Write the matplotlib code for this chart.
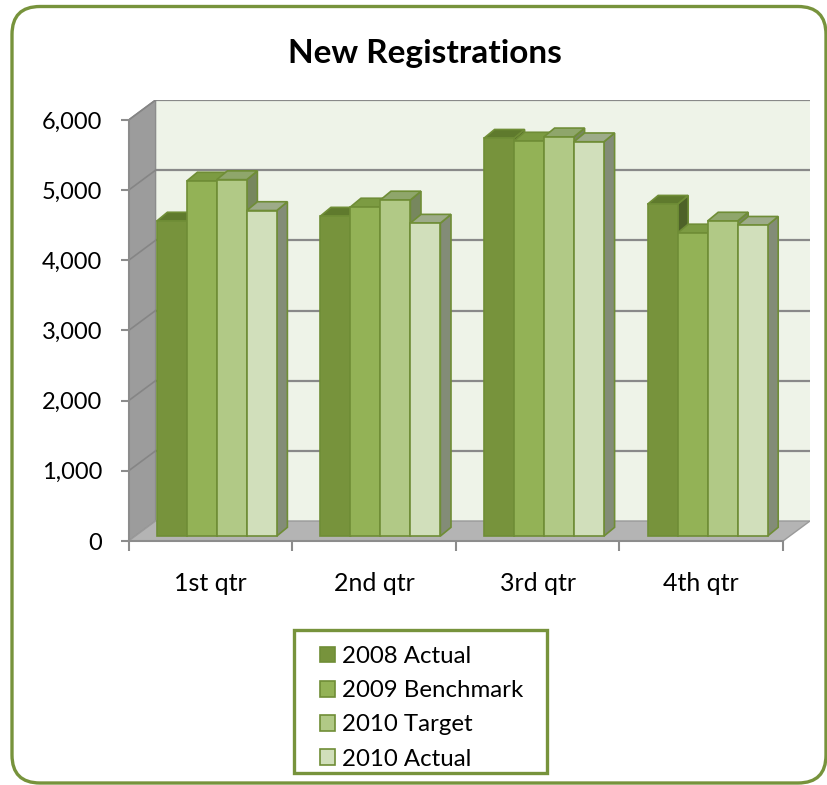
import matplotlib.pyplot as plt
from matplotlib.patches import Polygon, Rectangle, FancyBboxPatch, Patch

plt.rcParams['font.family'] = ['Lato', 'DejaVu Sans']

quarters = ["1st qtr", "2nd qtr", "3rd qtr", "4th qtr"]
series = ["2008 Actual", "2009 Benchmark", "2010 Target", "2010 Actual"]
actual_2008 = [4490, 4560, 5670, 4730]
benchmark_2009 = [5060, 4690, 5630, 4320]
target_2010 = [5080, 4790, 5690, 4490]
actual_2010 = [4640, 4460, 5620, 4430]
values = [actual_2008, benchmark_2009, target_2010, actual_2010]
yticks = [0, 1000, 2000, 3000, 4000, 5000, 6000]

front_cols = ["#77933c", "#93b256", "#b1c986", "#d1dfbb"]
top_cols = ["#5f7a2d", "#7c9b42", "#8fa66b", "#9dab89"]
side_cols = ["#4e6228", "#67822f", "#77875e", "#838c77"]
edge = "#6f8d36"
green = "#77933c"
grid_col = "#898989"

fig = plt.figure(figsize=(8.28, 7.85), dpi=100)
ax = fig.add_axes([128.6 / 828, (785 - 541) / 785, (810 - 128.6) / 828, (541 - 100) / 785])

# wall depth (oblique 3d look)
d = 0.165
h = 285
ax.set_xlim(-0.5, 3.5 + d)
ax.set_ylim(0, 6000 + h)

# back wall, left wall, floor
ax.add_patch(Rectangle((-0.5 + d, h), 4, 6000, fc="#eef3e8", ec="none", zorder=0))
ax.add_patch(Polygon([(-0.5, 0), (-0.5 + d, h), (-0.5 + d, 6000 + h), (-0.5, 6000)],
                     fc="#9c9c9c", ec="#8c8c8c", lw=1, zorder=1))
for v in yticks[1:]:
    ax.plot([-0.5 + d, 3.5 + d], [v + h, v + h], color=grid_col, lw=1.6, zorder=1)
    ax.plot([-0.5, -0.5 + d], [v, v + h], color="#858585", lw=1.2, zorder=1)
ax.add_patch(Polygon([(-0.5, 0), (3.5, 0), (3.5 + d, h), (-0.5 + d, h)],
                     fc="#b4b4b4", ec="#9a9a9a", lw=1, zorder=2))

# bars
w = 0.1834
x0 = -0.328
y0 = 70
ddx = 0.065
ddy = 125
z = 3
for i in range(len(quarters)):
    for j in range(len(series)):
        v = values[j][i]
        xl = i + x0 + j * w
        xr = xl + w
        side = [(xr, y0), (xr, y0 + v), (xr + ddx, y0 + v + ddy), (xr + ddx, y0 + ddy)]
        top = [(xl, y0 + v), (xr, y0 + v), (xr + ddx, y0 + v + ddy), (xl + ddx, y0 + v + ddy)]
        ax.add_patch(Polygon(side, fc=side_cols[j], ec=edge, lw=1.2, zorder=z))
        ax.add_patch(Polygon(top, fc=top_cols[j], ec=edge, lw=1.2, zorder=z + 1))
        ax.add_patch(Rectangle((xl, y0), w, v, fc=front_cols[j], ec=edge, lw=1.2, zorder=z + 2))
        z += 3

# axes
for s in ["top", "right"]:
    ax.spines[s].set_visible(False)
ax.spines["left"].set_bounds(0, 6000)
ax.spines["bottom"].set_bounds(-0.5, 3.5)
for s in ["left", "bottom"]:
    ax.spines[s].set_color("#8c8c8c")
    ax.spines[s].set_linewidth(1.5)
    ax.spines[s].set_zorder(200)

ax.set_yticks(yticks)
ax.set_yticklabels(["{:,}".format(t) for t in yticks])
ax.tick_params(axis="y", length=6, width=1.5, color="#8c8c8c", pad=13, labelsize=17)

ax.set_xticks([-0.5, 0.5, 1.5, 2.5, 3.5])
ax.set_xticklabels([])
ax.set_xticks(range(len(quarters)), minor=True)
ax.set_xticklabels(quarters, minor=True)
ax.tick_params(axis="x", which="major", length=7, width=1.5, color="#8c8c8c")
ax.tick_params(axis="x", which="minor", length=0, pad=22, labelsize=18)

fig.text(425 / 828, 1 - 54 / 785, "New Registrations", ha="center", va="center",
         fontsize=24, fontweight="bold")

# legend
fig.add_artist(Rectangle((293.5 / 828, 12 / 785), 254 / 828, 143 / 785, transform=fig.transFigure,
                         fc="white", ec=green, lw=2.4))
handles = [Patch(fc=front_cols[j], ec=edge, lw=1.2) for j in range(len(series))]
fig.legend(handles, series, loc="upper left", bbox_to_anchor=(320 / 828, 1 - 646 / 785),
           frameon=False, fontsize=17.3, borderpad=0, borderaxespad=0, handlelength=0.62,
           handleheight=0.62, handletextpad=0.3, labelspacing=0.55)

# chart border
fig.add_artist(FancyBboxPatch((0.12, 0.02), 8.14, 7.765, boxstyle="round,pad=0,rounding_size=0.28",
                              transform=fig.dpi_scale_trans, fill=False, ec=green, lw=2.4))

fig.savefig("out.png", dpi=100)
